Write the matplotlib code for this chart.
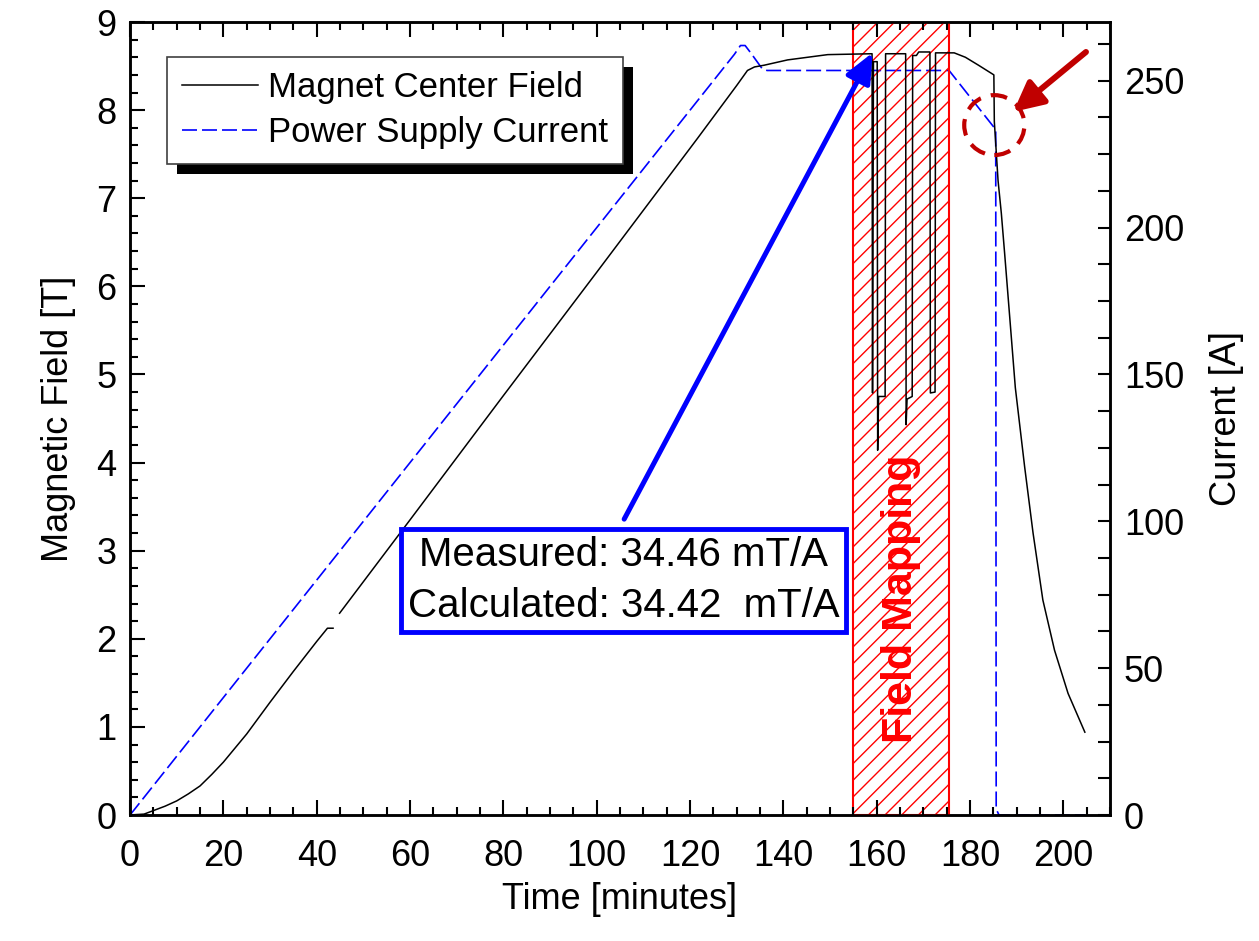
import matplotlib
matplotlib.use('Agg')
import matplotlib.pyplot as plt
import numpy as np
from matplotlib.patches import Rectangle, Ellipse
from matplotlib.transforms import IdentityTransform
from matplotlib.ticker import MultipleLocator

plt.rcParams['font.family'] = ['Liberation Sans', 'DejaVu Sans']

# magnet center field [T]
field_time = [0, 3, 5, 7.5, 10, 12.5, 15, 17.5, 20, 22.5, 25, 30, 35, 40, 42.3, 43.5, np.nan,
              44.9, 60, 80, 100, 121.6, 130, 132.3, 133.8, 135.9, 140.9, 149.5,
              159.0, 159.1, 159.3, 160.1, 160.2, 160.4, 161.8, 161.9,
              166.2, 166.3, 166.5, 167.6, 167.7, 168.5, 169.0, 171.4, 171.5,
              172.5, 172.6, 176.6, 179.0, 181.8, 185.1, 185.2, 186.0, 186.7,
              187.4, 188.5, 189.7, 191.7, 193.5, 195.6, 198.1, 201.0, 204.6]
field_tesla = [0, 0.01, 0.05, 0.10, 0.16, 0.24, 0.33, 0.46, 0.60, 0.76, 0.92, 1.28, 1.63, 1.97,
               2.12, 2.12, np.nan,
               2.29, 3.35, 4.76, 6.16, 7.68, 8.28, 8.45, 8.49, 8.51, 8.57, 8.63,
               8.64, 4.79, 8.55, 8.55, 4.14, 4.75, 4.75, 8.64,
               8.64, 4.43, 4.72, 4.75, 8.62, 8.62, 8.66, 8.66, 4.79,
               4.80, 8.65, 8.65, 8.60, 8.51, 8.40, 7.87, 7.20, 6.83,
               6.38, 5.65, 4.85, 3.95, 3.20, 2.44, 1.87, 1.38, 0.94]

# power supply current [A]
current_time = [0, 129.5, 130.8, 131.8, 133.0, 135.5, 136.5, 175.5, 185.2, 185.5,
                185.6, 186.2, 204.6]
current_amp = [0, 259.0, 262.0, 262.0, 259.5, 254.0, 253.5, 253.5, 234.0, 233.0,
               2.0, 0.0, 0.0]

mapping_start, mapping_end = 155.0, 175.5
labels = ['Magnet Center Field', 'Power Supply Current']
note_text = 'Measured: 34.46 mT/A\nCalculated: 34.42  mT/A'

fig = plt.figure(figsize=(12.59, 9.41), dpi=100)
ax = fig.add_axes([0.1033, 0.1339, 0.7784, 0.8427])
ax2 = ax.twinx()
ax.set_zorder(ax2.get_zorder() + 1)
ax.patch.set_visible(False)

ax.add_patch(Rectangle((mapping_start, 0), mapping_end - mapping_start, 9,
                       facecolor='none', edgecolor='red', hatch='//', lw=1.5, zorder=1))
ax.text((mapping_start + mapping_end) / 2, 2.45, 'Field Mapping', rotation=90,
        color='red', fontsize=31, fontweight='bold', ha='center', va='center', zorder=3)

line1, = ax.plot(field_time, field_tesla, color='black', lw=1.1, zorder=4)
line2, = ax2.plot(current_time, current_amp, color='blue', lw=1.2, dashes=(9, 3))

ax.set_xlim(0, 210)
ax.set_ylim(0, 9)
ax2.set_ylim(0, 270)

ax.xaxis.set_major_locator(MultipleLocator(20))
ax.xaxis.set_minor_locator(MultipleLocator(5))
ax.yaxis.set_major_locator(MultipleLocator(1))
ax.yaxis.set_minor_locator(MultipleLocator(0.2))
ax2.yaxis.set_major_locator(MultipleLocator(50))
ax2.yaxis.set_minor_locator(MultipleLocator(12.5))

ax.tick_params(which='both', direction='in', top=True, right=False, width=1.5,
               labelsize=26, pad=10)
ax.tick_params(axis='x', which='both', pad=17)
ax.tick_params(which='major', length=11)
ax.tick_params(which='minor', length=6)
ax2.tick_params(which='both', direction='in', width=1.5, labelsize=26, pad=10)
ax2.tick_params(which='major', length=9)
ax2.tick_params(which='minor', length=9)
for a in (ax, ax2):
    for s in a.spines.values():
        s.set_linewidth(1.8)

ax.set_xlabel('Time [minutes]', fontsize=26, labelpad=6)
ax.set_ylabel('Magnetic Field [T]', fontsize=26, labelpad=14)
ax2.set_ylabel('Current [A]', fontsize=26, labelpad=18)

leg = ax.legend([line1, line2], labels, loc='upper left',
                bbox_to_anchor=(0.0378, 0.956), borderaxespad=0, fontsize=25,
                fancybox=False, framealpha=1, edgecolor='#404040',
                handlelength=2.2, handletextpad=0.3, labelspacing=0.33, borderpad=0.42)
leg.get_frame().set_linewidth(1.2)
leg.set_zorder(6)

# measured / calculated box with arrow
ax.annotate('', xy=(159.4, 8.68), xytext=(105.6, 3.33),
            arrowprops=dict(arrowstyle='-|>,head_length=0.9,head_width=0.4',
                            color='blue', lw=3.6, mutation_scale=20), zorder=7)
ax.text(105.7, 2.66, note_text, fontsize=29, ha='center', va='center',
        linespacing=1.42, zorder=8,
        bbox=dict(boxstyle='square,pad=0.17', fc='white', ec='blue', lw=3.5))

# red marker on the quench point
ax.add_patch(Ellipse((185.2, 7.83), 12.9, 0.68, facecolor='none', edgecolor='#c00000',
                     lw=3, linestyle=(0, (4, 2.5)), zorder=7, clip_on=False))
ax.annotate('', xy=(188.8, 7.96), xytext=(205.3, 8.68),
            arrowprops=dict(arrowstyle='-|>,head_length=0.9,head_width=0.45',
                            color='#c00000', lw=4.3, mutation_scale=20),
            annotation_clip=False, zorder=7)

# legend shadow
fig.canvas.draw()
bb = leg.get_window_extent()
ax.add_patch(Rectangle((bb.x0 + 10, bb.y0 - 10), bb.width, bb.height,
                       transform=IdentityTransform(), facecolor='black',
                       edgecolor='none', zorder=5.9, clip_on=False))

fig.savefig('out.png', dpi=100)
